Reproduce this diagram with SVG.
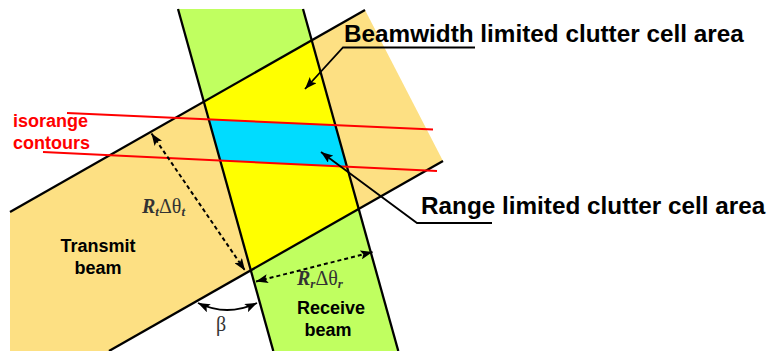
<svg xmlns="http://www.w3.org/2000/svg" width="770" height="351" viewBox="0 0 770 351">
<defs>
<style>
.edge{stroke:#000;stroke-width:2.3;fill:none}
.iso{stroke:#ff0000;stroke-width:2;fill:none}
.dash{stroke:#000;stroke-width:2;fill:none;stroke-dasharray:4 3}
.lead{stroke:#000;stroke-width:1.8;fill:none}
.big{font-family:"Liberation Sans",Arial,sans-serif;font-weight:bold;font-size:24.3px;fill:#000}
.lbl{font-family:"Liberation Sans",Arial,sans-serif;font-weight:bold;font-size:18px;fill:#000;text-anchor:middle}
.red{font-family:"Liberation Sans",Arial,sans-serif;font-weight:bold;font-size:18px;fill:#ff0000}
.math{font-family:"Liberation Serif","Times New Roman",serif;font-size:20px;fill:#333}
.bi{font-weight:bold;font-style:italic}
</style>
<marker id="ah" viewBox="0 0 12 9" refX="12" refY="4.5" markerWidth="12" markerHeight="9" markerUnits="userSpaceOnUse" orient="auto-start-reverse">
<path d="M0,0 L12,4.5 L0,9 L2.5,4.5 z" fill="#000"/>
</marker>
</defs>

<g id="transmit-beam">
<polygon points="365,10 443,161 109,351 10,351 10,212" fill="#fde083"/>
</g>
<g id="receive-beam">
<polygon points="178,9 303,9 398.3,351 273.3,351" fill="#c0ff60"/>
</g>
<g id="beamwidth-cell">
<polygon points="203.8,101.7 311.7,40.3 358.7,209 250.8,270.4" fill="#ffff00"/>
</g>
<g id="range-cell">
<polygon points="208.7,119.2 335.2,124.7 346.9,166.6 220.2,160.5" fill="#00dcff"/>
</g>

<g id="beam-edges">
<line class="edge" x1="10" y1="212" x2="365" y2="10"/>
<line class="edge" x1="443" y1="161" x2="109" y2="351"/>
<line class="edge" x1="178" y1="9" x2="273.3" y2="351"/>
<line class="edge" x1="303" y1="9" x2="398.3" y2="351"/>
</g>

<g id="isorange-contours">
<line class="iso" x1="67" y1="113" x2="433" y2="129.5"/>
<line class="iso" x1="43" y1="152" x2="437" y2="171"/>
</g>

<g id="connectors">
<line class="dash" x1="151.5" y1="133.5" x2="245" y2="270.5" marker-start="url(#ah)" marker-end="url(#ah)"/>
<line class="dash" x1="256" y1="281.5" x2="372.5" y2="252" marker-start="url(#ah)" marker-end="url(#ah)"/>
<path class="lead" d="M198,303 Q227,317 257,303" marker-start="url(#ah)" marker-end="url(#ah)"/>
<polyline class="lead" points="475,47.5 343,47.5 305,89" marker-end="url(#ah)"/>
<polyline class="lead" points="492,223 417,223 321,152" marker-end="url(#ah)"/>
</g>

<g id="labels">
<text class="big" x="344" y="42">Beamwidth limited clutter cell area</text>
<text class="big" x="421" y="214">Range limited clutter cell area</text>
<text class="red" x="13" y="127">isorange</text>
<text class="red" x="13" y="149">contours</text>
<text class="lbl" x="98" y="252">Transmit</text>
<text class="lbl" x="98" y="274">beam</text>
<text class="lbl" x="331" y="314">Receive</text>
<text class="lbl" x="328" y="336">beam</text>
<text class="math" x="142" y="213"><tspan class="bi">R</tspan><tspan class="bi" font-size="13" dy="3">t</tspan><tspan dy="-3">Δθ</tspan><tspan class="bi" font-size="13" dy="3">t</tspan></text>
<text class="math" x="297" y="285"><tspan class="bi">R</tspan><tspan class="bi" font-size="13" dy="3">r</tspan><tspan dy="-3">Δθ</tspan><tspan class="bi" font-size="13" dy="3">r</tspan></text>
<text class="math" x="216" y="331" font-size="20">β</text>
</g>
</svg>
